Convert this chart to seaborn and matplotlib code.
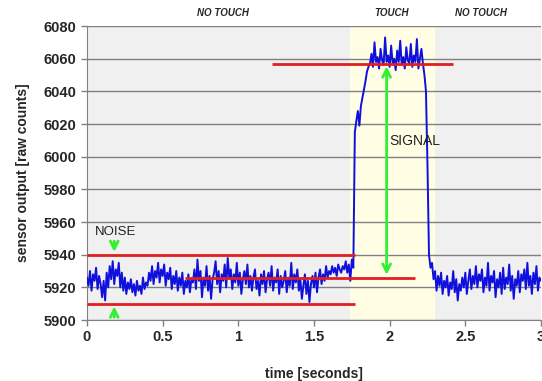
import numpy as np
import pandas as pd
import matplotlib
matplotlib.use("Agg")
import matplotlib.pyplot as plt
import seaborn as sns

# sensor readings, one sample every 10 ms
before_touch = [
    5926, 5921, 5930, 5918, 5928, 5924, 5932, 5919, 5927, 5922,
    5914, 5924, 5912, 5929, 5920, 5933, 5925, 5936, 5922, 5931,
    5927, 5935, 5920, 5929, 5918, 5926, 5916, 5923, 5919, 5925,
    5917, 5922, 5915, 5924, 5918, 5921, 5916, 5926, 5919, 5923,
    5921, 5929, 5924, 5933, 5922, 5930, 5926, 5935, 5923, 5931,
    5927, 5934, 5921, 5929, 5925, 5932, 5919, 5927, 5922, 5930,
    5918, 5926, 5921, 5929, 5916, 5924, 5920, 5928, 5917, 5925,
    5923, 5931, 5919, 5937, 5924, 5930, 5914, 5926, 5921, 5933,
    5918, 5927, 5913, 5925, 5929, 5936, 5922, 5930, 5917, 5928,
    5924, 5934, 5920, 5938, 5926, 5931, 5919, 5928, 5923, 5935,
    5921, 5929, 5916, 5925, 5930, 5922, 5934, 5920, 5927, 5918,
    5926, 5931, 5919, 5924, 5915, 5928, 5922, 5930, 5917, 5925,
    5929, 5921, 5933, 5918, 5926, 5923, 5931, 5916, 5927, 5920,
    5924, 5930, 5917, 5926, 5921, 5935, 5919, 5928, 5923, 5931,
    5918, 5925, 5913, 5921, 5928, 5916, 5924, 5911, 5922, 5927,
    5920, 5929, 5917, 5926, 5931, 5922, 5928, 5924, 5933, 5926,
    5930, 5928, 5933, 5929, 5932, 5927, 5934, 5931, 5929, 5933,
    5931, 5936, 5929, 5934, 5924, 5937, 5932,
]
rise = [6015, 6022, 6028, 6019, 6031, 6036, 6041, 6046, 6052, 6055]
touch = [
    6057, 6063, 6055, 6070, 6058, 6061, 6054, 6066, 6059, 6056,
    6073, 6058, 6062, 6055, 6068, 6057, 6060, 6053, 6065, 6058,
    6071, 6056, 6061, 6054, 6067, 6059, 6057, 6069, 6055, 6062,
    6058, 6072, 6054, 6060, 6066, 6057, 6050,
]
fall = [6040, 5995, 5940, 5932]
after_touch = [
    5935, 5925, 5930, 5918, 5927, 5921, 5929, 5916, 5924, 5920,
    5927, 5915, 5923, 5919, 5930, 5917, 5925, 5912, 5922, 5918,
    5926, 5920, 5929, 5916, 5924, 5931, 5919, 5927, 5922, 5933,
    5920, 5928, 5924, 5931, 5917, 5926, 5921, 5935, 5918, 5927,
    5923, 5930, 5914, 5925, 5920, 5929, 5916, 5932, 5919, 5926,
    5922, 5934, 5918, 5927, 5913, 5925, 5921, 5930, 5917, 5928,
    5924, 5931, 5919, 5935, 5921, 5927, 5916, 5929, 5922, 5933,
    5918, 5926, 5924,
]
counts = before_touch + rise + touch + fall + after_touch
sample_period = 0.01

touch_window = (1.74, 2.29)
noise_top, noise_bottom = 5940, 5910
baseline_level, touch_level = 5926, 6057

df = pd.DataFrame({"time": np.arange(len(counts)) * sample_period,
                   "counts": counts})

sns.set_style("white")
plt.rcParams["font.family"] = ["Liberation Sans", "DejaVu Sans"]

fig = plt.figure(figsize=(5.42, 3.81), dpi=100)
ax = fig.add_axes([0.1605, 0.160, 0.8376, 0.7717])
ax.set_facecolor("#f0f0f0")
ax.axvspan(*touch_window, color="#fffde4", zorder=0)

sns.lineplot(data=df, x="time", y="counts", ax=ax, color="#1010dd",
             linewidth=1.4, zorder=3)

# noise band and signal levels
red = "#e02020"
ax.hlines([noise_top, noise_bottom], 0, 1.77, color=red, lw=2, zorder=4)
ax.hlines(baseline_level, 0.65, 2.17, color=red, lw=2, zorder=4)
ax.hlines(touch_level, 1.22, 2.42, color=red, lw=2, zorder=4)

green = "#33ee33"
arrow = dict(arrowstyle="->", color=green, lw=2, mutation_scale=14)
ax.annotate("", xy=(0.18, noise_top), xytext=(0.18, 5950),
            arrowprops=arrow, zorder=5)
ax.annotate("", xy=(0.18, noise_bottom), xytext=(0.18, 5900),
            arrowprops=arrow, zorder=5)
ax.annotate("", xy=(1.98, touch_level), xytext=(1.98, baseline_level),
            arrowprops=dict(arrow, arrowstyle="<->"), zorder=5)
ax.text(0.05, 5952, "NOISE", fontsize=9.5, color="#222222")
ax.text(2.0, 6007, "SIGNAL", fontsize=10, color="#222222")

for x, label in [(0.9, "NO TOUCH"), (2.01, "TOUCH"), (2.6, "NO TOUCH")]:
    ax.text(x, 6085, label, ha="center", va="bottom", fontsize=7,
            fontweight="bold", style="italic")

ax.set_xlim(0, 3)
ax.set_ylim(5900, 6080)
ax.set_xticks([0, 0.5, 1, 1.5, 2, 2.5, 3])
ax.set_xticklabels(["0", "0.5", "1", "1.5", "2", "2.5", "3"])
ax.set_yticks(range(5900, 6081, 20))
ax.yaxis.grid(True, color="#808080", lw=1)
ax.set_axisbelow(True)
ax.tick_params(axis="both", length=4, width=1, color="#808080",
               labelsize=10.5, direction="out", left=True, bottom=True)
for lab in ax.get_xticklabels() + ax.get_yticklabels():
    lab.set_fontweight("bold")
for side in ["top", "right"]:
    ax.spines[side].set_visible(False)
for side in ["left", "bottom"]:
    ax.spines[side].set_color("#808080")

ax.set_xlabel("time [seconds]", fontsize=10, fontweight="bold", labelpad=16)
ax.set_ylabel("sensor output [raw counts]", fontsize=10, fontweight="bold",
              labelpad=10)

fig.savefig("out.png", dpi=100)
